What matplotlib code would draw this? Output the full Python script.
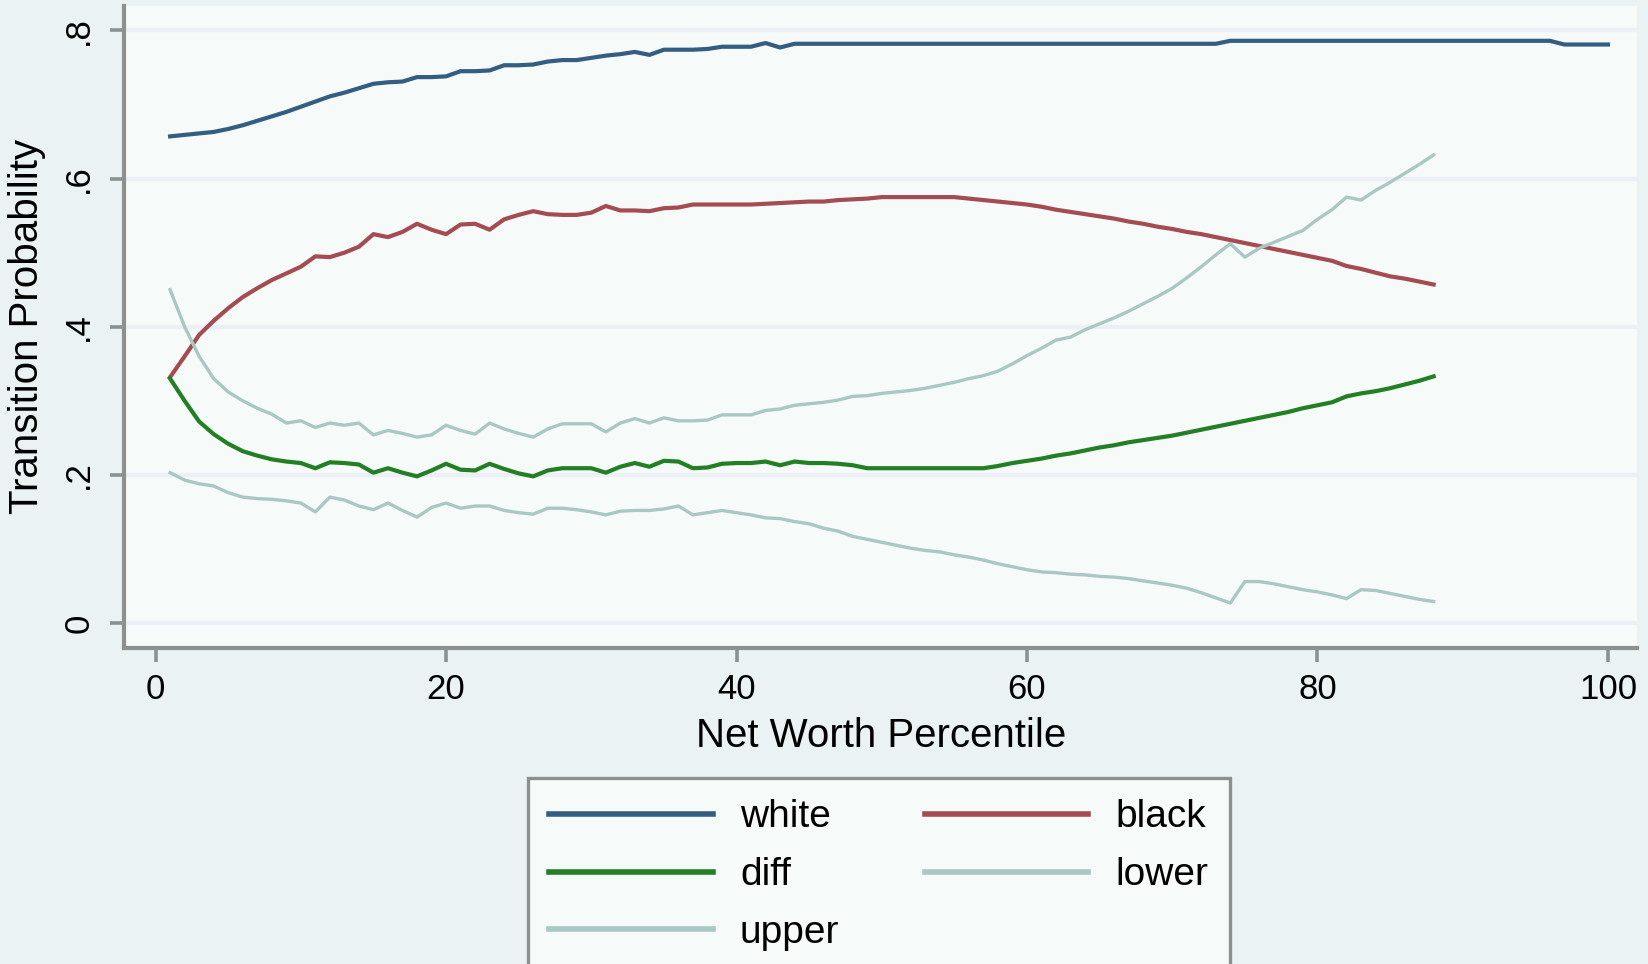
import matplotlib.pyplot as plt

# percentiles on the x axis
pctile_white = list(range(1, 101))
pctile_group = list(range(1, 89))

white = [0.657, 0.659, 0.661, 0.663, 0.667, 0.672, 0.678, 0.684, 0.690, 0.697,
         0.704, 0.711, 0.716, 0.722, 0.728, 0.730, 0.731, 0.737, 0.737, 0.738,
         0.745, 0.745, 0.746, 0.753, 0.753, 0.754, 0.758, 0.760, 0.760, 0.763,
         0.766, 0.768, 0.771, 0.767, 0.774, 0.774, 0.774, 0.775, 0.778, 0.778,
         0.778, 0.783, 0.777, 0.782, 0.782, 0.782, 0.782, 0.782, 0.782, 0.782,
         0.782, 0.782, 0.782, 0.782, 0.782, 0.782, 0.782, 0.782, 0.782, 0.782,
         0.782, 0.782, 0.782, 0.782, 0.782, 0.782, 0.782, 0.782, 0.782, 0.782,
         0.782, 0.782, 0.782, 0.786, 0.786, 0.786, 0.786, 0.786, 0.786, 0.786,
         0.786, 0.786, 0.786, 0.786, 0.786, 0.786, 0.786, 0.786, 0.786, 0.786,
         0.786, 0.786, 0.786, 0.786, 0.786, 0.786, 0.781, 0.781, 0.781, 0.781]

black = [0.332, 0.360, 0.389, 0.408, 0.425, 0.440, 0.452, 0.463, 0.472, 0.481,
         0.495, 0.494, 0.500, 0.508, 0.525, 0.521, 0.528, 0.539, 0.531, 0.525,
         0.538, 0.539, 0.531, 0.545, 0.551, 0.556, 0.552, 0.551, 0.551, 0.554,
         0.563, 0.557, 0.557, 0.556, 0.560, 0.561, 0.565, 0.565, 0.565, 0.565,
         0.565, 0.566, 0.567, 0.568, 0.569, 0.569, 0.571, 0.572, 0.573, 0.575,
         0.575, 0.575, 0.575, 0.575, 0.575, 0.573, 0.571, 0.569, 0.567, 0.565,
         0.562, 0.558, 0.555, 0.552, 0.549, 0.546, 0.542, 0.539, 0.535, 0.532,
         0.528, 0.525, 0.521, 0.517, 0.513, 0.509, 0.505, 0.501, 0.497, 0.493,
         0.489, 0.482, 0.478, 0.473, 0.468, 0.465, 0.461, 0.457]

diff = [0.330, 0.300, 0.272, 0.255, 0.242, 0.232, 0.226, 0.221, 0.218, 0.216,
        0.209, 0.217, 0.216, 0.214, 0.203, 0.209, 0.203, 0.198, 0.206, 0.215,
        0.207, 0.206, 0.215, 0.208, 0.202, 0.198, 0.206, 0.209, 0.209, 0.209,
        0.203, 0.211, 0.216, 0.211, 0.219, 0.218, 0.209, 0.210, 0.215, 0.216,
        0.216, 0.218, 0.213, 0.218, 0.216, 0.216, 0.215, 0.213, 0.209, 0.209,
        0.209, 0.209, 0.209, 0.209, 0.209, 0.209, 0.209, 0.212, 0.216, 0.219,
        0.222, 0.226, 0.229, 0.233, 0.237, 0.240, 0.244, 0.247, 0.250, 0.253,
        0.257, 0.261, 0.265, 0.269, 0.273, 0.277, 0.281, 0.285, 0.290, 0.294,
        0.298, 0.306, 0.310, 0.313, 0.317, 0.322, 0.327, 0.333]

lower = [0.203, 0.193, 0.188, 0.185, 0.176, 0.170, 0.168, 0.167, 0.165, 0.162,
         0.150, 0.170, 0.166, 0.158, 0.153, 0.162, 0.152, 0.143, 0.156, 0.162,
         0.155, 0.158, 0.158, 0.152, 0.149, 0.147, 0.155, 0.155, 0.153, 0.150,
         0.146, 0.151, 0.152, 0.152, 0.154, 0.158, 0.146, 0.149, 0.152, 0.149,
         0.146, 0.142, 0.141, 0.137, 0.134, 0.128, 0.124, 0.117, 0.113, 0.109,
         0.105, 0.101, 0.098, 0.096, 0.092, 0.089, 0.085, 0.080, 0.076, 0.072,
         0.069, 0.068, 0.066, 0.065, 0.063, 0.062, 0.060, 0.057, 0.054, 0.051,
         0.047, 0.041, 0.034, 0.027, 0.056, 0.056, 0.053, 0.049, 0.045, 0.042,
         0.038, 0.033, 0.045, 0.044, 0.040, 0.036, 0.032, 0.029]

upper = [0.450, 0.400, 0.360, 0.330, 0.312, 0.300, 0.290, 0.282, 0.270, 0.273,
         0.264, 0.270, 0.267, 0.270, 0.254, 0.260, 0.256, 0.251, 0.254, 0.267,
         0.260, 0.255, 0.270, 0.262, 0.256, 0.251, 0.262, 0.269, 0.269, 0.269,
         0.258, 0.270, 0.276, 0.270, 0.277, 0.273, 0.273, 0.274, 0.281, 0.281,
         0.281, 0.287, 0.289, 0.294, 0.296, 0.298, 0.301, 0.306, 0.307, 0.310,
         0.312, 0.314, 0.317, 0.321, 0.325, 0.330, 0.334, 0.340, 0.350, 0.361,
         0.371, 0.382, 0.386, 0.396, 0.404, 0.412, 0.421, 0.431, 0.441, 0.452,
         0.466, 0.481, 0.497, 0.512, 0.494, 0.506, 0.514, 0.522, 0.530, 0.545,
         0.558, 0.575, 0.571, 0.584, 0.595, 0.607, 0.619, 0.632]

x_ticks = [0, 20, 40, 60, 80, 100]
y_ticks = [0, 0.2, 0.4, 0.6, 0.8]
y_tick_labels = ['0', '.2', '.4', '.6', '.8']

plt.rcParams['font.family'] = ['Liberation Sans', 'DejaVu Sans']

W, H = 1648, 964
fig = plt.figure(figsize=(W / 100, H / 100), dpi=100, facecolor='#EAF2F3')
ax = fig.add_axes([124.5 / W, 1 - 648 / H, (1637 - 124.5) / W, 642 / H])
ax.set_facecolor('#F6FBF9')

axis_grey = '#8C9190'
band_col = '#A9C7C3'

# Plotting the series
l_white, = ax.plot(pctile_white, white, color='#335E82', lw=3.0, label='white')
l_black, = ax.plot(pctile_group, black, color='#A54C53', lw=3.0, label='black')
l_diff,  = ax.plot(pctile_group, diff, color='#237F23', lw=3.0, label='diff')
l_lower, = ax.plot(pctile_group, lower, color=band_col, lw=2.4, label='lower')
l_upper, = ax.plot(pctile_group, upper, color=band_col, lw=2.4, label='upper')

ax.set_xlim(-2.14, 102.0)
ax.set_ylim(-0.0337, 0.833)

ax.set_xticks(x_ticks)
ax.set_yticks(y_ticks)
ax.set_yticklabels(y_tick_labels, rotation=90, va='center')

ax.set_axisbelow(True)
ax.yaxis.grid(True, color='#ECF0F6', lw=3.2)

for side in ['top', 'right']:
    ax.spines[side].set_visible(False)
for side in ['left', 'bottom']:
    ax.spines[side].set_color(axis_grey)
    ax.spines[side].set_linewidth(3.0)

ax.tick_params(axis='both', length=10, width=2.6, color=axis_grey, labelsize=25)
ax.tick_params(axis='x', pad=8)
ax.tick_params(axis='y', pad=11)

ax.set_xlabel('Net Worth Percentile', fontsize=29, va='baseline')
ax.xaxis.set_label_coords(0.5, (648 - 747) / 642)
ax.set_ylabel('Transition Probability', fontsize=29, va='baseline')
ax.yaxis.set_label_coords((38 - 124.5) / 1512.5, 0.5)

# legend: two columns, row-wise order as in the original
leg = fig.legend(handles=[l_white, l_diff, l_upper, l_black, l_lower],
                 ncol=2, loc='upper left',
                 bbox_to_anchor=(528 / W, 1 - 778 / H),
                 borderaxespad=0, fontsize=28, frameon=True, fancybox=False,
                 handlelength=4.2, handletextpad=0.7, columnspacing=2.2,
                 labelspacing=0.56, borderpad=0.55)
leg.get_frame().set_facecolor('#F6FBF9')
leg.get_frame().set_edgecolor(axis_grey)
leg.get_frame().set_linewidth(2.4)
leg.get_frame().set_alpha(1)
for h in leg.legend_handles:
    h.set_linewidth(4.0)

fig.savefig('out.png', dpi=100, facecolor=fig.get_facecolor())
